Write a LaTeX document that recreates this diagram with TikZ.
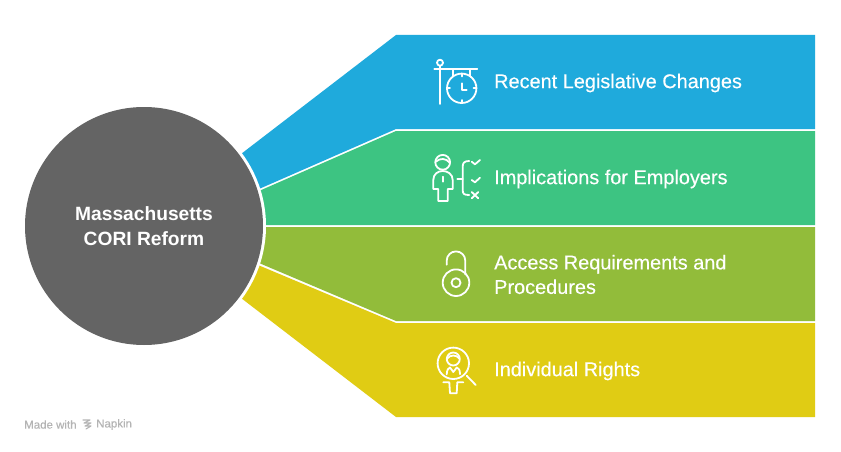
\documentclass[tikz,border=0pt]{standalone}
\usepackage{fontspec}
\setmainfont{Liberation Sans}
\newfontfamily\mediumfont{Liberation Sans}[FakeBold=0.25]
\tikzset{
  band/.style={line width=0pt},
  icon/.style={draw=white,line width=1.8pt,line cap=round,line join=round,fill=none},
  bandtext/.style={text=white,anchor=west,align=left,inner sep=0pt,font=\mediumfont\fontsize{19.9}{24.5}\selectfont},
  foot/.style={text=footgray,anchor=west,inner sep=0pt,font=\mediumfont\fontsize{11.5}{13}\selectfont}
}
\definecolor{bandblue}{HTML}{1FAADC}
\definecolor{bandgreen}{HTML}{3DC482}
\definecolor{bandolive}{HTML}{92BC3A}
\definecolor{bandyellow}{HTML}{E0CC14}
\definecolor{hubgray}{HTML}{646464}
\definecolor{footgray}{HTML}{B4B4B4}
\begin{document}
\begin{tikzpicture}[line cap=round,line join=round,x=1pt,y=-1pt]
\useasboundingbox (0,0) rectangle (841,452);
\fill [white] (0,0) rectangle (841,452);
% bands
\fill [bandblue,band] (241,154)-- (396,35)-- (815,35)-- (815,129)-- (396,129)-- (259,189)-- cycle;
\fill [bandgreen,band] (259,191)-- (396,131)-- (815,131)-- (815,225)-- (255,225)-- cycle;
\fill [bandolive,band] (255,227)-- (815,227)-- (815,321)-- (396,321)-- (259,263)-- cycle;
\fill [bandyellow,band] (258,265)-- (396,323)-- (815,323)-- (815,417)-- (396,417)-- (241,298)-- cycle;
% hub
\fill [white] (144,226) circle (122);
\node (hub) [circle,fill=hubgray,minimum size=238pt,inner sep=0pt,text=white,align=center,font=\fontsize{19.2}{25}\selectfont\bfseries] at (144,226) {Massachusetts\\CORI Reform};
% clock icon
\draw [icon] (440,62.7) circle (3);
\draw [icon] (440,65.7)-- (440,104);
\draw [icon] (434.3,69.3)-- (477.3,69.3);
\draw [icon] (453.3,69.3)-- (453.3,76);
\draw [icon] (470,69.3)-- (470,76);
\draw [icon] (461.7,88.3) circle (14.7);
\draw [icon] (461.7,73.6)-- (461.7,76.5);
\draw [icon] (461.7,103)-- (461.7,100.1);
\draw [icon] (447,88.3)-- (449.9,88.3);
\draw [icon] (476.4,88.3)-- (473.5,88.3);
\draw [icon] (461.7,83.3)-- (461.7,90)-- (466.7,90);
% employer icon
\draw [icon] (442.7,162.3) circle (7.4);
\draw [icon] (436,161.5) .. controls (440,158) and (446,158) .. (449.5,162.5);
\draw [icon] (438.3,189)-- (433.3,189)-- (433.3,180) .. controls (433.3,174) and (438,171) .. (442.7,171) .. controls (447.5,171) and (452.7,174) .. (452.7,180)-- (452.7,189)-- (447.7,189)-- (447.7,201)-- (438.3,201)-- cycle;
\draw [icon] (442.7,176.7)-- (442.7,181.7);
\draw [icon] (457.3,179)-- (462.7,179);
\draw [icon] (469.3,161) .. controls (464,161) and (462.7,163) .. (462.7,167)-- (462.7,190) .. controls (462.7,194) and (464,195) .. (469.3,195);
\draw [icon] (471.7,161.7)-- (475,164.3)-- (480,160);
\draw [icon] (471.7,180)-- (475,182.3)-- (480,177.7);
\draw [icon] (471.7,192)-- (478.3,198.3);
\draw [icon] (478.3,192)-- (471.7,198.3);
% lock icon
\draw [icon] (456,282.7) circle (13.3);
\draw [icon] (456,282.7) circle (4.5);
\draw [icon] (446.7,264.7)-- (446.7,260.7) arc (180:360:9.3)-- (465.3,274.5);
% search icon
\draw [icon] (453.3,363.3) circle (15.7);
\draw [icon] (453.3,359) circle (6.5);
\draw [icon] (447.3,358.5) .. controls (450,354.5) and (456.5,354.5) .. (459.3,358.5);
\draw [icon] (446.7,374.3) .. controls (447,369) and (448.5,368.5) .. (450,367.5)-- (453.3,372)-- (456.7,367.5) .. controls (458.5,368.5) and (460,369) .. (460,374.3);
\draw [icon] (466.7,375.7)-- (475.7,385);
\draw [icon] (443.3,382.3)-- (449.3,382.3)-- (450,393.3)-- (456.7,393.3)-- (457.3,382.3)-- (463.3,382.3);
% labels
\node (recent) [bandtext] at (494,83) {Recent Legislative Changes};
\node (implications) [bandtext] at (494,179) {Implications for Employers};
\node (access) [bandtext] at (494,274.5) {Access Requirements and\\Procedures};
\node (rights) [bandtext] at (494,371) {Individual Rights};
% footer
\node (made) [foot] at (24,424.5) {Made with};
\node (napkin) [foot] at (96,424.5) {Napkin};
\draw [footgray,line width=1.1pt] (83,420)-- (90,420)-- (84,423)-- (91,423)-- (85,426)-- (91,426)-- (86,429);
\end{tikzpicture}
\end{document}
